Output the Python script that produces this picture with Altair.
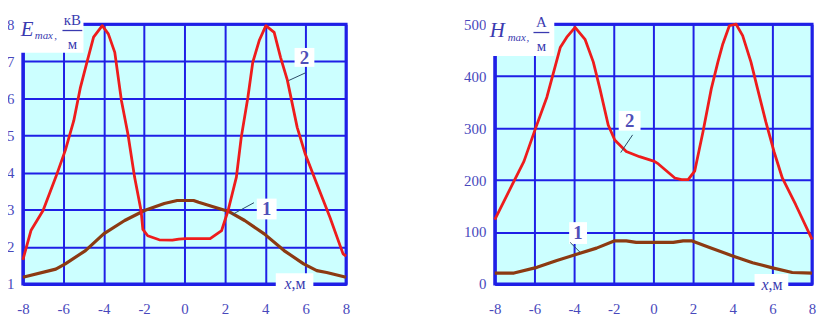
import altair as alt
import pandas as pd

BLUE = "#1f1fe6"
LBL = "#4848bc"
TXT = "#3a3ab0"
RED = "#ee1c1c"
BROWN = "#8c3a12"
LEAD = "#2a4a66"
SERIF = "Liberation Serif"

# ---------------- Left panel: E_max, kV/m ----------------
e1_x = [-8, -6.37, -5.9, -4.9, -4.0, -2.96, -1.98, -1.0, -0.36, 0.45, 0.7, 1.5, 2.16, 2.98, 3.95, 4.93, 5.9, 6.55, 7.04, 8]
e1_y = [1.18, 1.40, 1.54, 1.90, 2.35, 2.71, 2.98, 3.17, 3.25, 3.25, 3.20, 3.07, 2.96, 2.71, 2.35, 1.90, 1.54, 1.36, 1.31, 1.18]
e2_x = [-8, -7.6, -7.0, -6.37, -5.9, -5.48, -5.15, -4.83, -4.5, -4.07, -3.77, -3.45, -3.12, -2.8, -2.47, -2.15, -2.06, -1.82,
        -1.25, -0.6, -0.28, 0.05, 1.27, 1.84, 2.16, 2.57, 2.81, 3.14, 3.38, 3.7, 4.03, 4.44, 4.76, 5.09, 5.58, 5.98, 6.55, 7.2, 7.85, 8]
e2_y = [1.65, 2.44, 2.98, 3.88, 4.60, 5.40, 6.30, 6.97, 7.65, 7.96, 7.74, 7.24, 5.94, 5.04, 3.88, 2.98, 2.47, 2.30,
        2.19, 2.18, 2.21, 2.22, 2.22, 2.44, 2.98, 3.88, 4.95, 6.03, 6.97, 7.56, 7.96, 7.78, 7.10, 6.50, 5.22, 4.50, 3.70, 2.80, 1.81, 1.75]
e_xticks = [-8, -6, -4, -2, 0, 2, 4, 6, 8]
e_yticks = [1, 2, 3, 4, 5, 6, 7, 8]

# ---------------- Right panel: H_max, A/m ----------------
h1_x = [-8, -7.03, -5.87, -4.87, -3.87, -2.87, -1.95, -1.37, -0.87, 0.05, 1.0, 1.5, 1.92, 2.83, 4.0, 5.0, 6.0, 7.0, 8]
h1_y = [21, 21, 32, 45, 57, 69, 83, 83, 80, 80, 80, 83, 83, 70, 54, 41, 31, 22, 21]
h2_x = [-8, -7.12, -6.53, -5.95, -5.37, -4.7, -4.37, -3.95, -3.45, -3.03, -2.7, -2.28, -1.95, -1.37, -0.7, 0.05, 0.25,
        1.08, 1.42, 1.75, 2.08, 2.5, 2.92, 3.25, 3.5, 3.83, 4.17, 4.5, 4.92, 5.25, 5.67, 6.08, 6.5, 7.17, 8]
h2_y = [124, 191, 236, 299, 360, 455, 475, 494, 471, 427, 376, 306, 277, 255, 245, 236, 231,
        204, 201, 201, 217, 293, 376, 427, 462, 497, 500, 478, 427, 376, 312, 255, 204, 153, 86]
h_xticks = [-8, -6, -4, -2, 0, 2, 4, 6, 8]
h_yticks = [0, 100, 200, 300, 400, 500]

# ---------------- annotation definitions (data coordinates) ----------------
e_boxes = {"x": [-8.34, 5.45, 3.58, 4.52], "x2": [-5.0, 6.43, 4.56, 6.38],
           "y": [7.23, 6.85, 2.74, 0.76], "y2": [8.347, 7.36, 3.30, 1.29]}
h_boxes = {"x": [-8.45, -1.75, -4.25, 5.1], "x2": [-5.0, -0.65, -3.35, 6.8],
           "y": [439, 295, 77, -19], "y2": [524.9, 333, 119, 19]}
e_leaders = {"x": [5.15, 2.36], "x2": [5.99, 3.44], "y": [6.48, 2.87], "y2": [6.69, 3.19]}
h_leaders = {"x": [-1.65, -4.2], "x2": [-1.05, -3.7], "y": [253, 80], "y2": [287, 61]}
e_bar = {"x": [-6.04], "x2": [-5.06], "y": [7.83]}
h_bar = {"x": [-6.05], "x2": [-5.25], "y": [484]}

e_curve_labels = {"t": ["2", "1"], "x": [5.94, 4.07], "y": [7.09, 3.03]}
h_curve_labels = {"t": ["2", "1"], "x": [-1.2, -3.8], "y": [314, 98]}
e_main = {"t": ["E"], "x": [-8.1], "y": [7.68]}
h_main = {"t": ["H"], "x": [-8.25], "y": [475]}
e_sub = {"t": ["max", ","], "x": [-7.41, -6.45], "y": [7.6, 7.6]}
h_sub = {"t": ["max", ","], "x": [-7.35, -6.4], "y": [467, 467]}
e_frac = {"t": ["кВ", "м"], "x": [-5.55, -5.55], "y": [7.99, 7.33]}
h_frac = {"t": ["A", "м"], "x": [-5.65, -5.65], "y": [494, 448]}
e_xvar = {"t": ["x"], "x": [5.30], "y": [0.87]}
e_xunit = {"t": [",м"], "x": [5.30], "y": [0.87]}
h_xvar = {"t": ["x"], "x": [5.8], "y": [-11]}
h_xunit = {"t": [",м"], "x": [5.8], "y": [-11]}

LABEL_EXPR = "replace(datum.label, '\u2212', '-')"


def panel(c1x, c1y, c2x, c2y, xdom, ydom, xticks, yticks, boxes, leaders, bar,
          clabels, main, sub, frac, xvar, xunit, w, h):
    curves = pd.DataFrame({
        "x": c1x + c2x,
        "y": c1y + c2y,
        "s": ["1"] * len(c1x) + ["2"] * len(c2x),
    })
    xs = alt.Scale(domain=xdom, nice=False, zero=False)
    ys = alt.Scale(domain=ydom, nice=False, zero=False)
    xax = alt.Axis(values=xticks, title=None, grid=True, gridColor=BLUE, gridWidth=2,
                   domainColor=BLUE, domainWidth=3, ticks=False, tickSize=0, labelPadding=18,
                   labelFont=SERIF, labelFontSize=15, labelColor=LBL, labelAngle=0,
                   labelFlush=False, labelOverlap=False, labelBound=False, labelExpr=LABEL_EXPR)
    yax = alt.Axis(values=yticks, title=None, grid=True, gridColor=BLUE, gridWidth=2,
                   domainColor=BLUE, domainWidth=3, ticks=False, tickSize=0, labelPadding=9,
                   labelFont=SERIF, labelFontSize=15, labelColor=LBL,
                   labelFlush=False, labelOverlap=False, labelBound=False)
    X = lambda f: alt.X(f, scale=xs, axis=xax)
    Y = lambda f: alt.Y(f, scale=ys, axis=yax)

    lines = alt.Chart(curves).mark_line(strokeJoin="round").encode(
        x=X("x:Q"), y=Y("y:Q"),
        color=alt.Color("s:N", scale=alt.Scale(domain=["1", "2"], range=[BROWN, RED]), legend=None),
        strokeWidth=alt.StrokeWidth("s:N", scale=alt.Scale(domain=["1", "2"], range=[3.2, 2.8]), legend=None),
        detail="s:N",
    )
    bx = alt.Chart(pd.DataFrame(boxes)).mark_rect(color="white").encode(
        x=X("x:Q"), x2="x2:Q", y=Y("y:Q"), y2="y2:Q")
    ld = alt.Chart(pd.DataFrame(leaders)).mark_rule(color=LEAD, strokeWidth=1).encode(
        x=X("x:Q"), x2="x2:Q", y=Y("y:Q"), y2="y2:Q")
    br = alt.Chart(pd.DataFrame(bar)).mark_rule(color=TXT, strokeWidth=1.3).encode(
        x=X("x:Q"), x2="x2:Q", y=Y("y:Q"))

    def txt(d, color=TXT, **kw):
        return alt.Chart(pd.DataFrame(d)).mark_text(font=SERIF, color=color, **kw).encode(
            x=X("x:Q"), y=Y("y:Q"), text="t:N")

    t_lab = txt(clabels, color="#4f4fb8", fontSize=19, fontWeight="bold", align="center", baseline="middle")
    t_main = txt(main, fontSize=21, fontStyle="italic", align="left", baseline="alphabetic")
    t_sub = txt(sub, fontSize=11, fontStyle="italic", align="left", baseline="alphabetic")
    t_frac = txt(frac, fontSize=15, align="center", baseline="alphabetic")
    t_xv = txt(xvar, fontSize=16, fontStyle="italic", align="right", baseline="alphabetic")
    t_xu = txt(xunit, fontSize=16, align="left", baseline="alphabetic")
    return alt.layer(lines, bx, ld, br, t_lab, t_main, t_sub, t_frac, t_xv, t_xu).properties(width=w, height=h)


left = panel(e1_x, e1_y, e2_x, e2_y, [-8, 8], [1, 8], e_xticks, e_yticks, e_boxes, e_leaders, e_bar,
             e_curve_labels, e_main, e_sub, e_frac, e_xvar, e_xunit, 326, 262)
right = panel(h1_x, h1_y, h2_x, h2_y, [-8, 8], [0, 500], h_xticks, h_yticks, h_boxes, h_leaders, h_bar,
              h_curve_labels, h_main, h_sub, h_frac, h_xvar, h_xunit, 320, 262)

chart = alt.hconcat(left, right, spacing=111).properties(
    padding={"left": -3, "top": 0, "right": 0, "bottom": 0}
).configure_view(fill="#ccffff", stroke=BLUE, strokeWidth=3)

chart.save("out.html", embed_options={"renderer": "svg", "actions": False})
